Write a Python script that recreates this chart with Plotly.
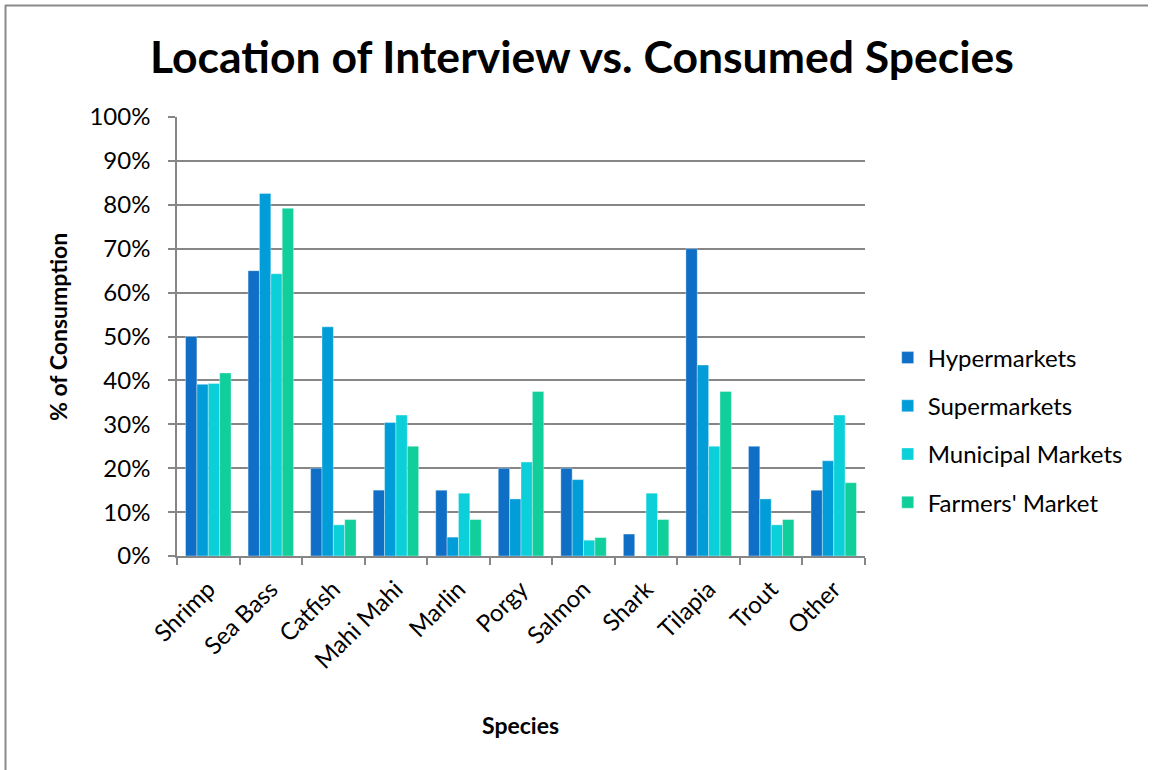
import plotly.graph_objects as go

# Species on the category axis
species = ["Shrimp", "Sea Bass", "Catfish", "Mahi Mahi", "Marlin", "Porgy",
           "Salmon", "Shark", "Tilapia", "Trout", "Other"]

# Share of respondents consuming each species, by interview location
hypermarkets = [0.500, 0.650, 0.200, 0.150, 0.150, 0.200, 0.200, 0.050, 0.700, 0.250, 0.150]
supermarkets = [0.391, 0.826, 0.522, 0.304, 0.043, 0.130, 0.174, 0.000, 0.435, 0.130, 0.217]
municipal_markets = [0.393, 0.643, 0.071, 0.321, 0.143, 0.214, 0.036, 0.143, 0.250, 0.071, 0.321]
farmers_market = [0.417, 0.792, 0.083, 0.250, 0.083, 0.375, 0.042, 0.083, 0.375, 0.083, 0.167]

series = [
    ("Hypermarkets", hypermarkets, "#0F6FC6"),
    ("Supermarkets", supermarkets, "#009DD9"),
    ("Municipal Markets", municipal_markets, "#0BD0D9"),
    ("Farmers' Market", farmers_market, "#10CF9B"),
]

FONT = "Lato, 'Open Sans', sans-serif"
GRID = "#868686"
TXT = 24

fig = go.Figure()
for i, (name, vals, color) in enumerate(series):
    fig.add_trace(go.Bar(
        x=species, y=vals, name=name, legendgroup=f"g{i}",
        marker=dict(color=color, line=dict(color="rgba(255,255,255,0.6)", width=0.6)),
    ))

fig.update_layout(
    width=1153, height=770,
    margin=dict(l=177, r=288, t=117, b=214),
    paper_bgcolor="white", plot_bgcolor="white",
    barmode="group", bargap=0.273, bargroupgap=0,
    font=dict(family=FONT, size=TXT, color="black"),
    title=dict(
        text="<b>Location of Interview vs. Consumed Species</b>",
        font=dict(family=FONT, size=44.5, color="black"),
        x=582 / 1153, xanchor="center", xref="container",
        y=1 - 57 / 770, yanchor="middle", yref="container",
    ),
    legend=dict(
        x=1.033, xanchor="left", y=0.287, yanchor="middle",
        traceorder="grouped", tracegroupgap=14,
        font=dict(family=FONT, size=TXT, color="black"),
        itemwidth=30,
    ),
    xaxis=dict(
        type="category", tickson="boundaries", ticks="outside", ticklen=7,
        tickcolor=GRID, tickwidth=1.5, tickangle=-45, ticklabelstandoff=8,
        showline=True, linecolor=GRID, linewidth=1.5, showgrid=False,
        tickfont=dict(family=FONT, size=TXT, color="black"),
    ),
    yaxis=dict(
        range=[0, 1.0], tickvals=[i / 10 for i in range(11)], tickformat=".0%",
        ticks="outside", ticklen=7, tickcolor=GRID, tickwidth=1.5,
        ticklabelstandoff=13,
        showline=True, linecolor=GRID, linewidth=1.5,
        showgrid=True, gridcolor=GRID, gridwidth=1.5, zeroline=False,
        tickfont=dict(family=FONT, size=TXT, color="black"),
    ),
    showlegend=True,
)

# Axis titles
fig.add_annotation(text="<b>% of Consumption</b>", textangle=-90,
                   xref="paper", yref="paper", x=(58 - 177) / 688, y=(556 - 327) / 439,
                   xanchor="center", yanchor="middle", showarrow=False,
                   font=dict(family=FONT, size=23, color="black"))
fig.add_annotation(text="<b>Species</b>",
                   xref="paper", yref="paper", x=(520 - 177) / 688, y=(556 - 725) / 439,
                   xanchor="center", yanchor="middle", showarrow=False,
                   font=dict(family=FONT, size=23, color="black"))

# Chart frame (left and top edges)
fig.add_shape(type="line", xref="paper", yref="paper",
              x0=(5.5 - 177) / 688, x1=(5.5 - 177) / 688, y0=(556 - 5) / 439, y1=(556 - 775) / 439,
              line=dict(color="#8a8a8a", width=2))
fig.add_shape(type="line", xref="paper", yref="paper",
              x0=(5 - 177) / 688, x1=(1148 - 177) / 688, y0=(556 - 5.5) / 439, y1=(556 - 5.5) / 439,
              line=dict(color="#8a8a8a", width=2))

fig.write_html("out.html")
